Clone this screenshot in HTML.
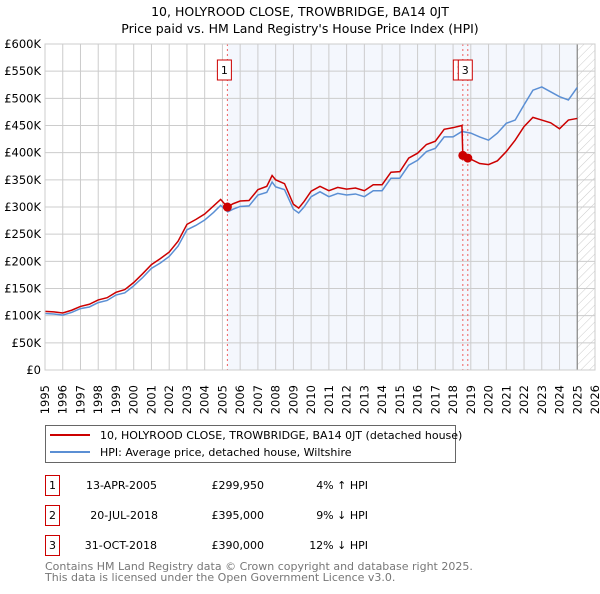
<!DOCTYPE html>
<html><head><meta charset="utf-8"><style>
body{margin:0;background:#fff;width:600px;height:590px;overflow:hidden;font-family:"DejaVu Sans","Liberation Sans",sans-serif;}
svg text{font-family:"DejaVu Sans","Liberation Sans",sans-serif;}
</style></head><body>
<svg id="chart" width="600" height="590" xmlns="http://www.w3.org/2000/svg">
<defs><pattern id="hatch" width="6" height="6" patternUnits="userSpaceOnUse" patternTransform="rotate(45)"><line x1="0" y1="0" x2="0" y2="6" stroke="#ccc" stroke-width="1"/></pattern></defs>
<text x="300" y="16" text-anchor="middle" font-size="12.5">10, HOLYROOD CLOSE, TROWBRIDGE, BA14 0JT</text>
<text x="300" y="33" text-anchor="middle" font-size="12.5">Price paid vs. HM Land Registry's House Price Index (HPI)</text>
<g id="plot"></g>
<g>
<rect x="45.5" y="425.5" width="410" height="37" fill="#fff" stroke="#666"/>
<line x1="50" y1="435" x2="90" y2="435" stroke="#cc0000" stroke-width="2"/>
<text x="100" y="439" font-size="11">10, HOLYROOD CLOSE, TROWBRIDGE, BA14 0JT (detached house)</text>
<line x1="50" y1="452" x2="90" y2="452" stroke="#5b8fd4" stroke-width="2"/>
<text x="100" y="456" font-size="11">HPI: Average price, detached house, Wiltshire</text>
</g>
<g font-size="11">
<rect x="45.5" y="475.5" width="14" height="20" fill="none" stroke="#cc0000"/><text x="52.5" y="489" text-anchor="middle">1</text>
<text x="157" y="489" text-anchor="end">13-APR-2005</text><text x="264" y="489" text-anchor="end">£299,950</text><text x="368" y="489" text-anchor="end">4% ↑ HPI</text>
<rect x="45.5" y="505.5" width="14" height="20" fill="none" stroke="#cc0000"/><text x="52.5" y="519" text-anchor="middle">2</text>
<text x="158" y="519" text-anchor="end">20-JUL-2018</text><text x="264" y="519" text-anchor="end">£395,000</text><text x="368" y="519" text-anchor="end">9% ↓ HPI</text>
<rect x="45.5" y="535.5" width="14" height="20" fill="none" stroke="#cc0000"/><text x="52.5" y="549" text-anchor="middle">3</text>
<text x="157" y="549" text-anchor="end">31-OCT-2018</text><text x="264" y="549" text-anchor="end">£390,000</text><text x="368" y="549" text-anchor="end">12% ↓ HPI</text>
</g>
<text x="45" y="570" font-size="11" fill="#777">Contains HM Land Registry data © Crown copyright and database right 2025.</text>
<text x="45" y="581" font-size="11" fill="#777">This data is licensed under the Open Government Licence v3.0.</text>
</svg>
<script>
const hpiYears=[1995,1995.5,1996,1996.5,1997,1997.5,1998,1998.5,1999,1999.5,2000,2000.5,2001,2001.5,2002,2002.5,2003,2003.5,2004,2004.5,2004.9,2005.3,2005.6,2006,2006.5,2007,2007.5,2007.8,2008,2008.5,2009,2009.3,2009.6,2010,2010.5,2011,2011.5,2012,2012.5,2013,2013.5,2014,2014.5,2015,2015.5,2016,2016.5,2017,2017.5,2018,2018.5,2019,2019.5,2020,2020.5,2021,2021.5,2022,2022.5,2023,2023.5,2024,2024.5,2025];
const hpiValues=[104,103,101,106,113,116,124,128,138,142,155,170,187,197,209,228,258,266,276,290,303,291,296,301,302,322,327,346,337,332,296,289,300,319,328,319,325,322,324,319,330,330,353,353,377,386,402,408,429,429,439,436,429,423,436,454,460,488,515,521,512,503,497,520];
const redYears=[1995,1995.5,1996,1996.5,1997,1997.5,1998,1998.5,1999,1999.5,2000,2000.5,2001,2001.5,2002,2002.5,2003,2003.5,2004,2004.5,2004.9,2005.28,2005.6,2006,2006.5,2007,2007.5,2007.8,2008,2008.5,2009,2009.3,2009.6,2010,2010.5,2011,2011.5,2012,2012.5,2013,2013.5,2014,2014.5,2015,2015.5,2016,2016.5,2017,2017.5,2018,2018.5,2018.55,2018.83,2019,2019.5,2020,2020.5,2021,2021.5,2022,2022.5,2023,2023.5,2024,2024.5,2025];
const redValues=[108,107,105,110,117,121,129,133,143,148,161,177,194,205,217,237,268,277,287,302,314,300,306,311,312,332,338,358,350,343,305,298,310,329,338,330,336,333,335,330,341,341,364,365,390,399,415,421,443,446,450,395,390,388,380,378,385,402,423,448,465,460,455,444,460,463];
const saleYears=[2005.28,2018.55,2018.83];
const saleValues=[299.95,395,390];
const saleLabels=["1","2","3"];
const yTicks=[0,50,100,150,200,250,300,350,400,450,500,550,600];
const xTicks=[];for(let y=1995;y<=2026;y++)xTicks.push(y);

const X0=45,X1=595,Y0=370,Y1=44;
const xs=t=>X0+(t-1995)/31*(X1-X0);
const ys=v=>Y0-v/600*(Y0-Y1);
const NS="http://www.w3.org/2000/svg";
const plot=document.getElementById('plot');
function mk(tag,attrs,parent){const e=document.createElementNS(NS,tag);for(const k in attrs)e.setAttribute(k,attrs[k]);(parent||plot).appendChild(e);return e;}

let e=mk('rect',{x:xs(2005.28),y:Y1,width:xs(2025)-xs(2005.28),height:Y0-Y1,fill:'#f4f7fd'});


e=mk('rect',{x:xs(2025),y:Y1,width:X1-xs(2025),height:Y0-Y1,fill:'url(#hatch)'});


yTicks.forEach(v=>{
  let l=mk('line',{x1:X0,x2:X1,y1:ys(v),y2:ys(v),stroke:'#ccc'});
  
  
  let t=mk('text',{x:X0-4,y:ys(v)+4,'text-anchor':'end','font-size':'11.5'});
  t.textContent=v===0?'£0':'£'+v+'K';
  
  
});
xTicks.forEach(y=>{
  let l=mk('line',{x1:xs(y),x2:xs(y),y1:Y1,y2:Y0,stroke:'#ccc'});
  
  
  let t=mk('text',{x:0,y:0,'text-anchor':'end','font-size':'11.5',transform:`translate(${xs(y)+4},${Y0+15}) rotate(-90)`});
  t.textContent=y;
  
  
});
e=mk('line',{x1:xs(2025),x2:xs(2025),y1:Y1,y2:Y0,stroke:'#888','stroke-width':1.2});


saleYears.forEach(t=>{
  let l=mk('line',{x1:xs(t),x2:xs(t),y1:Y1,y2:Y0,stroke:'#f06060','stroke-dasharray':'2,3'});
  
  
});
let hp=mk('polyline',{points:hpiYears.map((t,i)=>xs(t)+','+ys(hpiValues[i])).join(' '),fill:'none',stroke:'#5b8fd4','stroke-width':1.5});


let rp=mk('polyline',{points:redYears.map((t,i)=>xs(t)+','+ys(redValues[i])).join(' '),fill:'none',stroke:'#cc0000','stroke-width':1.5});


saleYears.forEach((t,i)=>{
  let c=mk('circle',{cx:xs(t),cy:ys(saleValues[i]),r:4.5,fill:'#cc0000'});
  
  
});
saleYears.forEach((t,i)=>{
  const off=i===0?-10:(i===1?-9.5:-9.5);
  const bx=xs(t)+off;
  let r=mk('rect',{x:bx,y:60,width:14,height:20,fill:'#fff',stroke:'#cc0000'});
  
  
  let tx=mk('text',{x:bx+7,y:74,'text-anchor':'middle','font-size':'11'});
  tx.textContent=saleLabels[i];
  
  
});
e=mk('rect',{x:X0,y:Y1,width:X1-X0,height:Y0-Y1,fill:'none',stroke:'#ccc'});


</script>
</body></html>
